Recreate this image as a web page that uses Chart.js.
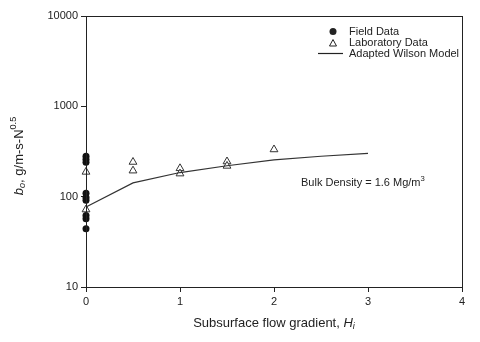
<!DOCTYPE html>
<html lang="en">
<head>
    <meta charset="UTF-8">
    <title>b0 vs subsurface flow gradient</title>
    <script src="https://cdn.jsdelivr.net/npm/chart.js"></script>
    <style>
        body { margin: 0; background: #fff; }
        #wrap { width: 480px; height: 342px; }
    </style>
</head>
<body>
    <div id="wrap"><canvas id="chart" width="480" height="342"></canvas></div>
    <script type="text/javascript">
        // data
        var fieldX = [0, 0, 0, 0, 0, 0, 0, 0, 0];
        var fieldY = [280, 260, 240, 109, 98, 91, 62, 57, 44];
        var labX = [0, 0, 0.5, 0.5, 1, 1, 1.5, 1.5, 2];
        var labY = [188, 72, 242, 194, 206, 180, 245, 219, 333];
        var modelX = [0, 0.5, 1, 1.5, 2, 2.5, 3];
        var modelY = [77, 142, 185, 220, 255, 280, 302];
        var xTicks = [0, 1, 2, 3, 4];
        var yTicks = [10, 100, 1000, 10000];

        var FONT = 'Arial, "Liberation Sans", sans-serif';
        var INK = '#222';

        function toPoints(xs, ys) {
            return xs.map(function (x, i) { return { x: x, y: ys[i] }; });
        }

        // draw a run of text pieces (normal / italic / sub / sup) starting at x
        function drawRich(ctx, parts, x, y, size) {
            parts.forEach(function (p) {
                var s = p.small ? size * 0.7 : size;
                ctx.font = (p.italic ? 'italic ' : '') + s + 'px ' + FONT;
                var dy = p.sub ? size * 0.3 : (p.sup ? -size * 0.4 : 0);
                ctx.fillText(p.t, x, y + dy);
                x += ctx.measureText(p.t).width;
            });
            return x;
        }
        function richWidth(ctx, parts, size) {
            var w = 0;
            parts.forEach(function (p) {
                var s = p.small ? size * 0.7 : size;
                ctx.font = (p.italic ? 'italic ' : '') + s + 'px ' + FONT;
                w += ctx.measureText(p.t).width;
            });
            return w;
        }

        var decorations = {
            id: 'decorations',
            afterDraw: function (chart) {
                var ctx = chart.ctx;
                var a = chart.chartArea;
                ctx.save();
                // frame
                ctx.strokeStyle = INK;
                ctx.lineWidth = 1;
                ctx.strokeRect(a.left + 0.5, a.top + 0.5, a.right - a.left, a.bottom - a.top);

                ctx.fillStyle = INK;
                ctx.textBaseline = 'middle';

                // legend
                ctx.beginPath();
                ctx.arc(333, 31.5, 3.5, 0, Math.PI * 2);
                ctx.fill();
                ctx.beginPath();
                ctx.moveTo(333, 39.5); ctx.lineTo(336.5, 46); ctx.lineTo(329.5, 46); ctx.closePath();
                ctx.strokeStyle = INK;
                ctx.stroke();
                ctx.beginPath();
                ctx.moveTo(318, 53.5); ctx.lineTo(343, 53.5);
                ctx.lineWidth = 1.2;
                ctx.stroke();
                ctx.font = '11px ' + FONT;
                ctx.textAlign = 'left';
                ctx.fillText('Field Data', 349, 31.5);
                ctx.fillText('Laboratory Data', 349, 42.5);
                ctx.fillText('Adapted Wilson Model', 349, 53.5);

                // annotation
                var bulk = [{ t: 'Bulk Density = 1.6 Mg/m' }, { t: '3', sup: true, small: true }];
                drawRich(ctx, bulk, 301, 183, 11);

                // x axis title
                var xt = [{ t: 'Subsurface flow gradient, ' }, { t: 'H', italic: true }, { t: 'i', italic: true, sub: true, small: true }];
                var w = richWidth(ctx, xt, 13);
                drawRich(ctx, xt, 274 - w / 2, 323, 13);

                // y axis title
                ctx.translate(19, 156);
                ctx.rotate(-Math.PI / 2);
                var yt = [{ t: 'b', italic: true }, { t: 'o', italic: true, sub: true, small: true }, { t: ', g/m-s-N' }, { t: '0.5', sup: true, small: true }];
                w = richWidth(ctx, yt, 13);
                drawRich(ctx, yt, -w / 2, 0, 13);
                ctx.restore();
            }
        };

        var ctx = document.getElementById('chart').getContext('2d');
        var chart = new Chart(ctx, {
            type: 'scatter',
            data: {
                datasets: [{
                    label: 'Adapted Wilson Model',
                    type: 'line',
                    data: toPoints(modelX, modelY),
                    borderColor: '#333',
                    borderWidth: 1.2,
                    pointRadius: 0,
                    fill: false,
                    tension: 0,
                    clip: false
                }, {
                    label: 'Field Data',
                    data: toPoints(fieldX, fieldY),
                    pointStyle: 'circle',
                    pointRadius: 3.5,
                    backgroundColor: '#111',
                    borderColor: '#111',
                    borderWidth: 0,
                    clip: false
                }, {
                    label: 'Laboratory Data',
                    data: toPoints(labX, labY),
                    pointStyle: 'triangle',
                    pointRadius: 4.5,
                    backgroundColor: '#fff',
                    borderColor: '#333',
                    borderWidth: 1,
                    clip: false
                }]
            },
            options: {
                responsive: false,
                animation: false,
                layout: { padding: { left: 0, right: 18, top: 16, bottom: 0 } },
                plugins: {
                    legend: { display: false },
                    tooltip: { enabled: false }
                },
                scales: {
                    x: {
                        type: 'linear',
                        min: 0,
                        max: 4,
                        afterBuildTicks: function (s) { s.ticks = xTicks.map(function (v) { return { value: v }; }); },
                        afterFit: function (s) { s.height = 55; },
                        grid: { drawOnChartArea: false, drawTicks: true, tickLength: 5, color: INK },
                        border: { display: true, color: INK },
                        ticks: { color: INK, font: { family: FONT, size: 11 }, padding: 3 }
                    },
                    y: {
                        type: 'logarithmic',
                        min: 10,
                        max: 10000,
                        afterBuildTicks: function (s) { s.ticks = yTicks.map(function (v) { return { value: v }; }); },
                        afterFit: function (s) { s.width = 86; },
                        grid: { drawOnChartArea: false, drawTicks: true, tickLength: 5, color: INK },
                        border: { display: true, color: INK },
                        ticks: {
                            color: INK,
                            font: { family: FONT, size: 11 },
                            padding: 3,
                            callback: function (v) { return String(v); }
                        }
                    }
                }
            },
            plugins: [decorations]
        });
    </script>
</body>
</html>
